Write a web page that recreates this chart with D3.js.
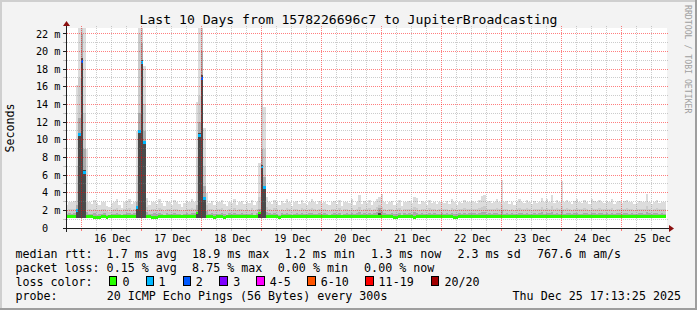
<!DOCTYPE html>
<html><head><meta charset="utf-8">
<script src="https://cdn.jsdelivr.net/npm/d3@7/dist/d3.min.js"></script>
<style>
html,body{margin:0;padding:0;background:#f3f3f3;overflow:hidden}
svg{display:block}
text{font-family:"DejaVu Sans Mono",monospace;fill:#000;white-space:pre}
</style></head><body>
<svg id="chart" width="697" height="310"></svg>
<script>
// ---------------- DATA ----------------
const title = "Last 10 Days from 1578226696c7 to JupiterBroadcasting";
const yAxisTitle = "Seconds";
const watermark = "RRDTOOL / TOBI OETIKER";
const xTickLabels = ["16 Dec","17 Dec","18 Dec","19 Dec","20 Dec","21 Dec","22 Dec","23 Dec","24 Dec","25 Dec"];
const yTickValuesMs = [0,2,4,6,8,10,12,14,16,18,20,22];
const yTickLabels = ["0  ","2 m","4 m","6 m","8 m","10 m","12 m","14 m","16 m","18 m","20 m","22 m"];
const yTopMs = 22.65;
const smokeFloorMs = 1.15;

// hourly buckets (240), first bucket starts Dec 15 17:24
// outermost smoke (max ping), ms
const maxPing = [
 2.6,3.0,2.9,3.1,16.2,25,
 25,25,9.0,2.9,2.7,3.2,2.8,2.6,3.0,2.9,2.5,2.4,2.8,3.0,3.3,2.6,2.3,2.9,3.1,3.3,2.7,3.0,11.0,25,
 25,18.4,3.4,2.6,2.9,3.0,2.7,3.3,2.8,2.5,3.1,2.9,2.6,3.2,3.0,2.7,2.4,2.8,3.1,2.9,3.3,3.0,14.3,25,
 25,11.3,4.0,2.8,3.1,2.6,3.0,2.9,3.2,2.7,2.5,3.0,2.8,3.3,2.6,2.9,3.1,2.7,3.0,2.8,3.2,2.6,3.0,7.4,
 20.2,13.7,3.5,3.0,2.7,3.2,2.9,2.6,3.1,2.8,3.3,3.0,2.5,2.9,3.1,2.7,3.2,2.8,2.6,3.0,3.3,2.9,2.7,3.1,
 2.8,3.0,2.7,2.6,2.9,3.1,2.7,3.2,2.5,2.9,3.0,2.8,3.3,2.6,3.0,3.7,2.7,3.1,2.8,3.2,2.6,3.0,3.3,3.5,
 3.9,3.0,2.7,2.9,3.1,2.6,2.8,3.2,2.5,3.0,2.9,3.1,2.8,3.5,3.4,2.7,3.1,2.9,2.6,3.2,2.8,3.0,2.7,2.9,
 3.0,2.8,3.1,2.7,3.3,2.9,2.6,3.0,2.8,3.2,2.9,3.0,3.1,3.0,2.8,3.2,3.6,3.7,2.9,3.1,2.8,3.0,3.3,2.9,
 5.4,2.9,3.1,2.7,3.0,2.6,2.9,3.3,3.0,2.8,3.2,2.9,2.7,3.1,2.8,3.0,3.4,2.9,3.3,3.0,3.7,2.8,3.2,2.9,
 5.3,2.9,3.2,3.0,2.7,3.1,3.3,2.9,2.8,3.2,3.0,2.7,3.3,3.1,2.9,3.2,3.0,2.8,3.1,2.9,3.3,2.7,3.0,3.1,
 2.8,3.1,3.2,2.9,3.0,2.7,2.8,3.1,3.0,2.9,3.9,3.0,2.7,3.0,3.2,2.8,3.0,2.9
];
// second smoke band top, ms
const upperPing = [
 2.0,2.2,2.1,2.2,7.0,17,
 25,13,3.0,2.1,2.0,2.2,1.9,2.0,2.1,2.2,1.9,1.8,2.0,2.1,2.3,2.0,1.9,2.1,2.2,2.3,2.0,2.2,6.0,22,
 25,14,2.4,2.0,2.1,2.2,2.0,2.3,2.1,1.9,2.2,2.1,2.0,2.2,2.1,2.0,1.9,2.0,2.2,2.1,2.3,2.2,8.0,15,
 25,7.0,2.6,2.1,2.2,2.0,2.1,2.1,2.3,2.0,1.9,2.2,2.0,2.3,2.0,2.1,2.2,2.0,2.1,2.0,2.3,1.9,2.2,3.5,
 14,9.0,2.4,2.2,2.0,2.3,2.1,1.9,2.2,2.0,2.3,2.1,1.9,2.1,2.2,2.0,2.3,2.1,2.0,2.2,2.3,2.1,2.0,2.2,
 2.1,2.2,2.0,1.9,2.1,2.2,2.0,2.3,1.9,2.1,2.2,2.0,2.3,2.0,2.2,2.4,2.0,2.2,2.1,2.3,2.0,2.2,2.4,2.6,
 2.4,2.2,2.0,2.1,2.2,2.0,2.1,2.3,1.9,2.2,2.1,2.2,2.1,2.4,2.3,2.0,2.2,2.1,2.0,2.3,2.1,2.2,2.0,2.1,
 2.2,2.1,2.2,2.0,2.3,2.1,2.0,2.2,2.1,2.3,2.1,2.2,2.2,2.2,2.1,2.3,2.4,2.5,2.1,2.2,2.1,2.2,2.3,2.1,
 2.6,2.1,2.2,2.0,2.2,2.0,2.1,2.3,2.2,2.1,2.3,2.1,2.0,2.2,2.1,2.2,2.4,2.1,2.3,2.2,2.5,2.1,2.3,2.1,
 2.5,2.1,2.3,2.2,2.0,2.2,2.3,2.1,2.1,2.3,2.2,2.0,2.3,2.2,2.1,2.3,2.2,2.1,2.2,2.1,2.3,2.0,2.2,2.2,
 2.1,2.2,2.3,2.1,2.2,2.0,2.1,2.2,2.2,2.1,2.5,2.2,2.0,2.2,2.3,2.1,2.2,2.1
];
// third smoke band top, ms
const innerPing = [
 1.6,1.7,1.6,1.7,2.6,12.5,
 22,9.0,1.8,1.6,1.6,1.7,1.5,1.6,1.6,1.7,1.5,1.5,1.6,1.6,1.7,1.6,1.5,1.6,1.7,1.7,1.6,1.7,3.0,13,
 21,11,1.8,1.6,1.6,1.7,1.6,1.7,1.6,1.5,1.7,1.6,1.6,1.7,1.6,1.6,1.5,1.6,1.7,1.6,1.7,1.7,2.6,12,
 20,4.8,1.9,1.6,1.7,1.6,1.6,1.6,1.7,1.6,1.5,1.7,1.6,1.7,1.6,1.6,1.7,1.6,1.6,1.6,1.7,1.5,1.7,2.2,
 9.0,5.8,1.8,1.7,1.6,1.7,1.6,1.5,1.7,1.6,1.7,1.6,1.5,1.6,1.7,1.6,1.7,1.6,1.6,1.7,1.7,1.6,1.6,1.7,
 1.6,1.7,1.6,1.5,1.6,1.7,1.6,1.7,1.5,1.6,1.7,1.6,1.7,1.6,1.7,1.8,1.6,1.7,1.6,1.7,1.6,1.7,1.8,2.3,
 1.9,1.7,1.6,1.6,1.7,1.6,1.6,1.7,1.5,1.7,1.6,1.7,1.6,1.8,1.7,1.6,1.7,1.6,1.6,1.7,1.6,1.7,1.6,1.6,
 1.7,1.6,1.7,1.6,1.7,1.6,1.6,1.7,1.6,1.7,1.6,1.7,1.7,1.7,1.6,1.7,1.8,1.8,1.6,1.7,1.6,1.7,1.7,1.6,
 2.0,1.6,1.7,1.6,1.7,1.6,1.6,1.7,1.7,1.6,1.7,1.6,1.6,1.7,1.6,1.7,1.8,1.6,1.7,1.7,1.8,1.6,1.7,1.6,
 2.0,1.6,1.7,1.7,1.6,1.7,1.7,1.6,1.6,1.7,1.7,1.6,1.7,1.7,1.6,1.7,1.7,1.6,1.7,1.6,1.7,1.6,1.7,1.7,
 1.6,1.7,1.7,1.6,1.7,1.6,1.6,1.7,1.7,1.6,1.8,1.7,1.6,1.7,1.7,1.6,1.7,1.6
];
// darkest smoke band top, ms
const corePing = [
 1.4,1.4,1.4,1.4,2.1,10.8,
 19.3,6.6,1.45,1.4,1.4,1.4,1.4,1.4,1.4,1.4,1.4,1.4,1.4,1.4,1.4,1.4,1.4,1.4,1.4,1.4,1.4,1.4,2.4,11.1,
 19.0,9.9,1.45,1.4,1.4,1.4,1.4,1.4,1.4,1.4,1.4,1.4,1.4,1.4,1.4,1.4,1.4,1.4,1.4,1.4,1.4,1.4,1.8,10.8,
 17.3,3.5,1.5,1.4,1.4,1.4,1.4,1.4,1.4,1.4,1.4,1.4,1.4,1.4,1.4,1.4,1.4,1.4,1.4,1.4,1.4,1.4,1.4,1.75,
 7.1,4.8,1.45,1.4,1.4,1.4,1.4,1.4,1.4,1.4,1.4,1.4,1.4,1.4,1.4,1.4,1.4,1.4,1.4,1.4,1.4,1.4,1.4,1.4,
 1.4,1.4,1.4,1.4,1.4,1.4,1.4,1.4,1.4,1.4,1.4,1.4,1.4,1.4,1.4,1.4,1.4,1.4,1.4,1.4,1.4,1.4,1.4,1.7,
 1.45,1.4,1.4,1.4,1.4,1.4,1.4,1.4,1.4,1.4,1.4,1.4,1.4,1.4,1.4,1.4,1.4,1.4,1.4,1.4,1.4,1.4,1.4,1.4,
 1.4,1.4,1.4,1.4,1.4,1.4,1.4,1.4,1.4,1.4,1.4,1.4,1.4,1.4,1.4,1.4,1.4,1.4,1.4,1.4,1.4,1.4,1.4,1.4,
 1.5,1.4,1.4,1.4,1.4,1.4,1.4,1.4,1.4,1.4,1.4,1.4,1.4,1.4,1.4,1.4,1.4,1.4,1.4,1.4,1.4,1.4,1.4,1.4,
 1.5,1.4,1.4,1.4,1.4,1.4,1.4,1.4,1.4,1.4,1.4,1.4,1.4,1.4,1.4,1.4,1.4,1.4,1.4,1.4,1.4,1.4,1.4,1.4,
 1.4,1.4,1.4,1.4,1.4,1.4,1.4,1.4,1.4,1.4,1.4,1.4,1.4,1.4,1.4,1.4,1.4,1.4
];
// median rtt, ms
const medianRtt = [
 1.3,1.3,1.3,1.3,2.0,10.6,
 18.9,6.3,1.3,1.3,1.3,1.2,1.2,1.2,1.3,1.3,1.2,1.3,1.3,1.3,1.3,1.3,1.3,1.3,1.3,1.3,1.3,1.3,2.3,10.9,
 18.7,9.7,1.3,1.3,1.2,1.2,1.2,1.3,1.3,1.3,1.3,1.3,1.3,1.3,1.3,1.3,1.3,1.3,1.3,1.3,1.3,1.3,1.7,10.5,
 16.9,3.3,1.3,1.3,1.3,1.2,1.3,1.3,1.3,1.2,1.3,1.3,1.3,1.3,1.3,1.3,1.3,1.3,1.3,1.3,1.3,1.3,1.3,1.7,
 6.9,4.6,1.3,1.3,1.3,1.3,1.3,1.2,1.3,1.3,1.3,1.3,1.3,1.3,1.3,1.3,1.3,1.3,1.3,1.3,1.3,1.3,1.3,1.3,
 1.3,1.3,1.3,1.3,1.3,1.3,1.3,1.3,1.3,1.3,1.3,1.3,1.3,1.3,1.3,1.3,1.3,1.3,1.3,1.3,1.3,1.3,1.3,1.3,
 1.3,1.3,1.3,1.3,1.3,1.2,1.2,1.3,1.3,1.3,1.3,1.3,1.3,1.2,1.3,1.3,1.3,1.3,1.3,1.3,1.3,1.3,1.3,1.3,
 1.3,1.3,1.3,1.3,1.3,1.2,1.2,1.3,1.3,1.3,1.3,1.3,1.3,1.3,1.3,1.3,1.3,1.3,1.3,1.3,1.3,1.3,1.3,1.3,
 1.3,1.3,1.3,1.3,1.3,1.3,1.3,1.3,1.3,1.3,1.3,1.3,1.3,1.3,1.3,1.3,1.3,1.3,1.3,1.3,1.3,1.3,1.3,1.3,
 1.3,1.3,1.3,1.3,1.3,1.3,1.3,1.3,1.3,1.3,1.3,1.3,1.3,1.3,1.3,1.3,1.3,1.3,1.3,1.3,1.3,1.3,1.3,1.3,
 1.3,1.3,1.3,1.3,1.3,1.3,1.3,1.3,1.3,1.3,1.3,1.3,1.3,1.3,1.3,1.3,1.3,1.3
];
// lost pings out of 20 per bucket
const lostPings = [
 0,0,0,0,1,1,
 2,1,0,0,0,0,0,0,0,0,0,0,0,0,0,0,0,0,0,0,0,0,1,1,
 1,1,0,0,0,0,0,0,0,0,0,0,0,0,0,0,0,0,0,0,0,0,0,1,
 2,1,0,0,0,0,0,0,0,0,0,0,0,0,0,0,0,0,0,0,0,0,0,0,
 1,1,0,0,0,0,0,0,0,0,0,0,0,0,0,0,0,0,0,0,0,0,0,0,
 0,0,0,0,0,0,0,0,0,0,0,0,0,0,0,0,0,0,0,0,0,0,0,0,
 0,0,0,0,0,0,0,0,0,0,0,0,0,0,0,0,0,0,0,0,0,0,0,0,
 0,0,0,0,0,0,0,0,0,0,0,0,0,0,0,0,0,0,0,0,0,0,0,0,
 0,0,0,0,0,0,0,0,0,0,0,0,0,0,0,0,0,0,0,0,0,0,0,0,
 0,0,0,0,0,0,0,0,0,0,0,0,0,0,0,0,0,0,0,0,0,0,0,0,
 0,0,0,0,0,0,0,0,0,0,0,0,0,0,0,0,0,0
];
const lossLabels = ["0","1","2","3","4-5","6-10","11-19","20/20"];
const lossUpper = [0,1,2,3,5,10,19,20];
const lossColors = ["#26ff00","#00b8ff","#0059ff","#7e00ff","#ff00ff","#ff5500","#ff0000","#a10000"];

const legendRow1 = ["median rtt:  1.7 ms avg","18.9 ms max","1.2 ms min","1.3 ms now","2.3 ms sd","767.6 m am/s"];
const legendRow2 = ["packet loss: 0.15 % avg","8.75 % max","0.00 % min","0.00 % now"];
const legendRow3Title = "loss color:";
const legendRow4 = ["probe:","20 ICMP Echo Pings (56 Bytes) every 300s"];
const legendDate = "Thu Dec 25 17:13:25 2025";

// ---------------- LAYOUT ----------------
const W = 697, H = 310;
const X0 = 67, X1 = 667, Y0 = 228, Y1 = 28;
const row1X = [15.4,192.1,284.8,371.1,457.5,536.9];
const row2X = [15.4,192.1,277.8,364.1];
const boxX = [108.7,145.7,182.7,219.3,256,307,365.3,430.7];
const boxLabelX = [122.4,158.6,195.8,233.2,269.8,320.8,378.6,444.4];
const rowY = [258.2,272.1,286,299.8];

const svg = d3.select("#chart");
svg.append("rect").attr("width",W).attr("height",H).attr("fill","#f3f3f3");
svg.append("rect").attr("x",0).attr("y",0).attr("width",W).attr("height",2).attr("fill","#cfcfcf");
svg.append("rect").attr("x",0).attr("y",0).attr("width",2).attr("height",H).attr("fill","#cfcfcf");
svg.append("rect").attr("x",0).attr("y",H-2).attr("width",W).attr("height",2).attr("fill","#9e9e9e");
svg.append("rect").attr("x",W-2).attr("y",0).attr("width",2).attr("height",H).attr("fill","#9e9e9e");

svg.append("rect").attr("x",X0).attr("y",Y1).attr("width",X1-X0).attr("height",Y0-Y1).attr("fill","#ffffff");

const tStart = new Date(Date.UTC(2025,11,15,18)), tEnd = new Date(Date.UTC(2025,11,25,18));
const x = d3.scaleUtc().domain([tStart,tEnd]).range([X0,X1]);
const y = d3.scaleLinear().domain([0,yTopMs]).range([Y0,Y1]);

const hour = 3600e3;
const firstBucket = Date.UTC(2025,11,15,17,24);
const buckets = medianRtt.map((m,k)=>({
  t0:new Date(firstBucket + k*hour), t1:new Date(firstBucket + (k+1)*hour),
  max:maxPing[k], up:upperPing[k], inn:innerPing[k], core:corePing[k], med:m, loss:lostPings[k]
}));

svg.append("clipPath").attr("id","plotclip").append("rect")
  .attr("x",X0).attr("y",Y1).attr("width",X1-X0).attr("height",Y0-Y1);
const plot = svg.append("g").attr("clip-path","url(#plotclip)");

const bands = [["max","#dcdcdc"],["up","#cbcbcb"],["inn","#aaaaaa"],["core","#4a4a4a"]];
bands.forEach(([key,col])=>{
  plot.append("g").attr("shape-rendering","crispEdges").selectAll("rect").data(buckets).join("rect")
    .attr("x",d=>x(d.t0)).attr("width",d=>x(d.t1)-x(d.t0))
    .attr("y",d=>y(d[key])).attr("height",d=>y(smokeFloorMs)-y(d[key]))
    .attr("fill",col);
});
const lossIndex = n => lossUpper.findIndex(u=>n<=u);
plot.append("g").attr("shape-rendering","crispEdges").selectAll("rect").data(buckets).join("rect")
  .attr("x",d=>x(d.t0)).attr("width",d=>x(d.t1)-x(d.t0))
  .attr("y",d=>y(d.med)-1.4).attr("height",2.8)
  .attr("fill",d=>lossColors[lossIndex(d.loss)]);

// ---------------- GRID (dotted, on top) ----------------
const minorCol = "rgba(128,128,128,0.4)", majorCol = "rgba(255,0,0,0.5)";
const grid = svg.append("g").attr("shape-rendering","crispEdges");
function dotsPath(pts){ return pts.map(([a,b])=>`M${a},${b}h1v1h-1z`).join(""); }
const rowOf = v => Math.floor(y(v));
const colOf = t => Math.round(x(t)) - 1;
d3.range(1,23).forEach(v=>{
  const major = v%2===0, r = rowOf(v);
  const pts = d3.range(X0-2, X1+2, 2).map(a=>[a,r]);
  grid.append("path").attr("d",dotsPath(pts)).attr("fill",major?majorCol:minorCol);
  grid.append("rect").attr("x",X0-4).attr("y",r).attr("width",3).attr("height",1)
    .attr("fill",major?"#1f1f1f":minorCol);
});
const gridTimes = d3.utcHour.every(6).range(tStart,tEnd).filter(t=>+t>+tStart);
gridTimes.forEach(t=>{
  const major = t.getUTCHours()===0, c = colOf(t), col = major?majorCol:minorCol;
  const pts = d3.range(Y1-2, Y0, 2).map(b=>[c,b]);
  grid.append("path").attr("d",dotsPath(pts)).attr("fill",col);
  grid.append("rect").attr("x",c).attr("y",Y0+1).attr("width",1).attr("height",2).attr("fill",col);
});

// ---------------- AXES ----------------
const axisCol = "#1f1f1f";
const ax = svg.append("g").attr("shape-rendering","crispEdges");
ax.append("rect").attr("x",X0-4).attr("y",Y0).attr("width",X1-X0+7).attr("height",1).attr("fill",axisCol);
ax.append("rect").attr("x",X0-1).attr("y",Y1-4).attr("width",1).attr("height",Y0-Y1+8).attr("fill",axisCol);
svg.append("path").attr("d",`M${X1+2},${Y0-3}L${X1+2},${Y0+4}L${X1+7},${Y0+0.5}Z`).attr("fill","#8b1010");
svg.append("path").attr("d",`M${X0-4},${Y1-2}L${X0+3},${Y1-2}L${X0-0.5},${Y1-7}Z`).attr("fill","#8b1010");

const noonTicks = xTickLabels.map((_,i)=>new Date(Date.UTC(2025,11,16+i,12)));
const gx = svg.append("g").attr("transform",`translate(0,${Y0})`)
  .call(d3.axisBottom(x).tickValues(noonTicks).tickFormat((d,i)=>xTickLabels[i]).tickSize(0).tickPadding(0));
gx.select(".domain").remove();
gx.selectAll("text").attr("dy",null).attr("y",13.8).style("font-size","10.2px")
  .style("font-family","'DejaVu Sans Mono',monospace").attr("fill","#000");

const gy = svg.append("g").attr("transform",`translate(${X0},0)`)
  .call(d3.axisLeft(y).tickValues(yTickValuesMs).tickFormat((d,i)=>yTickLabels[i]).tickSize(0).tickPadding(6.5));
gy.select(".domain").remove();
gy.selectAll("text").attr("xml:space","preserve").style("font-size","10.2px")
  .style("font-family","'DejaVu Sans Mono',monospace").attr("fill","#000");

// ---------------- TEXT ----------------
svg.append("text").attr("x",W/2).attr("y",24).attr("text-anchor","middle")
  .style("font-size","13.1px").text(title);
svg.append("text").attr("transform","translate(14,128) rotate(-90)").attr("text-anchor","middle")
  .style("font-size","11.66px").text(yAxisTitle);
svg.append("text").attr("transform","translate(684.5,5) rotate(90)")
  .style("font-size","8.2px").style("fill","#a0a0a0").text(watermark);

const lg = svg.append("g").style("font-size","11.66px");
legendRow1.forEach((s,i)=>lg.append("text").attr("x",row1X[i]).attr("y",rowY[0]).attr("xml:space","preserve").text(s));
legendRow2.forEach((s,i)=>lg.append("text").attr("x",row2X[i]).attr("y",rowY[1]).attr("xml:space","preserve").text(s));
lg.append("text").attr("x",row1X[0]).attr("y",rowY[2]).text(legendRow3Title);
lossLabels.forEach((s,i)=>{
  lg.append("rect").attr("x",boxX[i]+0.5).attr("y",rowY[2]-9.5).attr("width",7.5).attr("height",9)
    .attr("fill",lossColors[i]).attr("stroke","#000").attr("stroke-width",1).attr("shape-rendering","crispEdges");
  lg.append("text").attr("x",boxLabelX[i]).attr("y",rowY[2]).text(s);
});
lg.append("text").attr("x",row1X[0]).attr("y",rowY[3]).text(legendRow4[0]);
lg.append("text").attr("x",106.7).attr("y",rowY[3]).text(legendRow4[1]);
lg.append("text").attr("x",681).attr("y",rowY[3]).attr("text-anchor","end").text(legendDate);
</script>
</body></html>
